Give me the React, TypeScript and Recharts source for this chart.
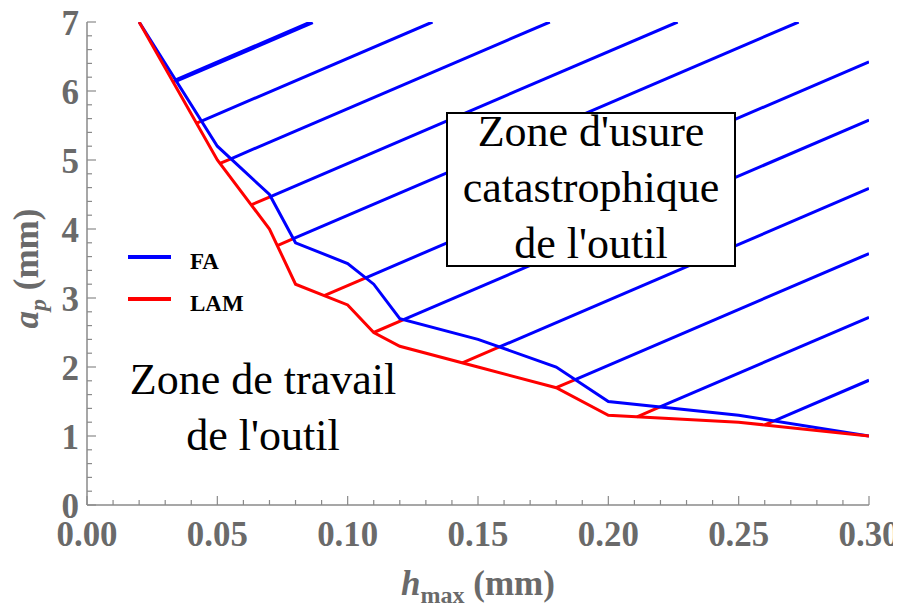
import React from "react";
import { LineChart, Line, XAxis, YAxis, Legend } from "recharts";

// values
const H_MAX = [0.02, 0.05, 0.07, 0.08, 0.1, 0.11, 0.12, 0.15, 0.18, 0.2, 0.25, 0.3];
const AP_FA = [7, 5.2, 4.5, 3.8, 3.5, 3.2, 2.7, 2.4, 2.0, 1.5, 1.3, 1.0];
const AP_LAM = [7, 5.0, 4.0, 3.2, 2.9, 2.5, 2.3, 2.0, 1.7, 1.3, 1.2, 1.0];

// hatching of the wear zone: start on the LAM curve, common slope (mm / mm)
const HATCH_START = [0.033, 0.042, 0.051, 0.063, 0.073, 0.091, 0.11, 0.144, 0.18, 0.211, 0.26];
const HATCH_SLOPE = 16.2;

const X_MAX = 0.3;
const Y_MAX = 7;
const X_TICKS = Array.from({ length: 31 }, (_, i) => +(i * 0.01).toFixed(2));
const Y_TICKS = Array.from({ length: 36 }, (_, i) => +(i * 0.2).toFixed(1));

const BLUE = "#0000ff";
const RED = "#ff0000";
const GRAY = "#6a6a6a";
const FRAME = "#8a8a8a";
const FONT = "'Liberation Serif', 'Times New Roman', serif";

const rows = H_MAX.map((x, i) => ({ x, fa: AP_FA[i], lam: AP_LAM[i] }));

const interp = (xs: number[], ys: number[], x: number) => {
  for (let i = 1; i < xs.length; i++) {
    if (x <= xs[i]) {
      const t = (x - xs[i - 1]) / (xs[i] - xs[i - 1]);
      return ys[i - 1] + t * (ys[i] - ys[i - 1]);
    }
  }
  return ys[ys.length - 1];
};

// where a hatch line (y = b + k x) leaves the FA curve
const crossFA = (xs0: number, b: number) => {
  const pts = [xs0, ...H_MAX.filter((x) => x > xs0)];
  for (let i = 1; i < pts.length; i++) {
    const f0 = interp(H_MAX, AP_FA, pts[i - 1]) - (b + HATCH_SLOPE * pts[i - 1]);
    const f1 = interp(H_MAX, AP_FA, pts[i]) - (b + HATCH_SLOPE * pts[i]);
    if (f0 >= 0 && f1 <= 0) {
      const x = pts[i - 1] + ((pts[i] - pts[i - 1]) * f0) / (f0 - f1 || 1);
      return { x, y: b + HATCH_SLOPE * x };
    }
  }
  return { x: xs0, y: b + HATCH_SLOPE * xs0 };
};

const hatches = HATCH_START.map((xs) => {
  const ys = interp(H_MAX, AP_LAM, xs);
  const b = ys - HATCH_SLOPE * xs;
  const mid = crossFA(xs, b);
  const xe = Math.min((Y_MAX - b) / HATCH_SLOPE, X_MAX);
  return {
    red: [{ x: xs, y: ys }, mid],
    blue: [mid, { x: xe, y: b + HATCH_SLOPE * xe }],
  };
});

const isMajorX = (v: number) => Math.round(v * 100) % 5 === 0;
const isMajorY = (v: number) => Math.round(v * 10) % 10 === 0;

const labelStyle = { fontFamily: FONT, fontWeight: "bold" as const, fill: GRAY };

const BottomTick = ({ x, y, payload }: any) => {
  const major = isMajorX(payload.value);
  return (
    <g>
      <line x1={x} x2={x} y1={y} y2={y - (major ? 9 : 5)} stroke={FRAME} strokeWidth={1.2} />
      {major && (
        <text
          x={x}
          y={y + 41}
          textAnchor="middle"
          fontSize={35}
          textLength={61}
          lengthAdjust="spacingAndGlyphs"
          {...labelStyle}
        >
          {payload.value.toFixed(2)}
        </text>
      )}
    </g>
  );
};

const TopTick = ({ x, y, payload }: any) => (
  <line x1={x} x2={x} y1={y} y2={y + (isMajorX(payload.value) ? 9 : 5)} stroke={FRAME} strokeWidth={1.2} />
);

const LeftTick = ({ x, y, payload }: any) => {
  const major = isMajorY(payload.value);
  return (
    <g>
      <line x1={x} x2={x + (major ? 9 : 5)} y1={y} y2={y} stroke={FRAME} strokeWidth={1.2} />
      {major && (
        <text x={x - 8} y={y + 12.5} textAnchor="end" fontSize={35} {...labelStyle}>
          {Math.round(payload.value)}
        </text>
      )}
    </g>
  );
};

const RightTick = ({ x, y, payload }: any) => (
  <line x1={x} x2={x - (isMajorY(payload.value) ? 9 : 5)} y1={y} y2={y} stroke={FRAME} strokeWidth={1.2} />
);

const XTitle = (props: any) => {
  const vb = props.viewBox ?? { x: 79, y: 497, width: 782 };
  return (
    <text x={vb.x + vb.width / 2} y={vb.y + 90} textAnchor="middle" fontSize={35} {...labelStyle}>
      <tspan fontStyle="italic">h</tspan>
      <tspan fontSize={24} dy={8}>max</tspan>
      <tspan dy={-8}> (mm)</tspan>
    </text>
  );
};

const YTitle = (props: any) => {
  const vb = props.viewBox ?? { x: 0, y: 14, height: 483 };
  const cx = vb.x + 30;
  const cy = vb.y + vb.height / 2 + 5;
  return (
    <text x={cx} y={cy} transform={`rotate(-90 ${cx} ${cy})`} textAnchor="middle" fontSize={35} {...labelStyle}>
      <tspan fontStyle="italic">a</tspan>
      <tspan fontStyle="italic" fontSize={24} dy={8}>p</tspan>
      <tspan dy={-8}> (mm)</tspan>
    </text>
  );
};

const renderLegend = (props: any) => {
  const items = (props.payload || []).filter((p: any) => p.value === "FA" || p.value === "LAM");
  return (
    <div style={{ position: "relative", width: 140, height: 84 }}>
      {items.map((p: any, i: number) => (
        <React.Fragment key={p.value}>
          <svg width={44} height={40} style={{ position: "absolute", left: 0, top: i * 42 }}>
            <line x1={0} x2={43} y1={19} y2={19} stroke={p.color} strokeWidth={4} />
          </svg>
          <span
            style={{
              position: "absolute",
              left: 62,
              top: i * 42 + 4,
              lineHeight: "40px",
              fontFamily: FONT,
              fontWeight: "bold",
              fontSize: 23,
              color: "#000",
            }}
          >
            {p.value}
          </span>
        </React.Fragment>
      ))}
    </div>
  );
};

const zoneText: React.CSSProperties = {
  position: "absolute",
  fontFamily: FONT,
  fontSize: 44,
  lineHeight: "56px",
  textAlign: "center",
  color: "#000",
  whiteSpace: "nowrap",
};

export default function App() {
  const axisLine = { stroke: FRAME, strokeWidth: 1.5 };
  return (
    <div style={{ position: "relative", width: 893, height: 602, fontFamily: FONT }}>
      <LineChart
        width={893}
        height={602}
        margin={{ top: 14, right: 32, bottom: 0, left: 0 }}
        style={{ overflow: "visible" }}
      >
        <XAxis
          xAxisId="b"
          dataKey="x"
          type="number"
          domain={[0, X_MAX]}
          ticks={X_TICKS}
          interval={0}
          allowDataOverflow
          tickSize={0}
          tickMargin={0}
          tickLine={false}
          tick={BottomTick}
          axisLine={axisLine}
          height={105}
          label={XTitle}
        />
        <XAxis
          xAxisId="t"
          orientation="top"
          dataKey="x"
          type="number"
          domain={[0, X_MAX]}
          ticks={X_TICKS}
          interval={0}
          allowDataOverflow
          tickSize={0}
          tickMargin={0}
          tickLine={false}
          tick={TopTick}
          axisLine={axisLine}
          height={0}
        />
        <YAxis
          yAxisId="l"
          type="number"
          domain={[0, Y_MAX]}
          ticks={Y_TICKS}
          interval={0}
          allowDataOverflow
          tickSize={0}
          tickMargin={0}
          tickLine={false}
          tick={LeftTick}
          axisLine={axisLine}
          width={79}
          label={YTitle}
        />
        <YAxis
          yAxisId="r"
          orientation="right"
          type="number"
          domain={[0, Y_MAX]}
          ticks={Y_TICKS}
          interval={0}
          allowDataOverflow
          tickSize={0}
          tickMargin={0}
          tickLine={false}
          tick={RightTick}
          axisLine={axisLine}
          width={0}
        />
        {hatches.flatMap((h, i) => [
          <Line
            key={`hr${i}`}
            xAxisId="b"
            yAxisId="l"
            data={h.red}
            dataKey="y"
            stroke={RED}
            strokeWidth={3}
            dot={false}
            activeDot={false}
            legendType="none"
            isAnimationActive={false}
          />,
          <Line
            key={`hb${i}`}
            xAxisId="b"
            yAxisId="l"
            data={h.blue}
            dataKey="y"
            stroke={BLUE}
            strokeWidth={i === 0 ? 4.5 : 3}
            dot={false}
            activeDot={false}
            legendType="none"
            isAnimationActive={false}
          />,
        ])}
        <Line
          xAxisId="b"
          yAxisId="l"
          data={rows}
          dataKey="fa"
          name="FA"
          stroke={BLUE}
          strokeWidth={3}
          dot={false}
          activeDot={false}
          isAnimationActive={false}
        />
        <Line
          xAxisId="b"
          yAxisId="l"
          data={rows}
          dataKey="lam"
          name="LAM"
          stroke={RED}
          strokeWidth={3}
          dot={false}
          activeDot={false}
          isAnimationActive={false}
        />
        <Legend
          layout="vertical"
          align="center"
          verticalAlign="middle"
          wrapperStyle={{ left: 120, top: 230, width: 140, height: 84 }}
          content={renderLegend}
        />
      </LineChart>
      <div
        style={{
          position: "absolute",
          left: 438,
          top: 104,
          width: 290,
          height: 155,
          boxSizing: "border-box",
          border: "2px solid #000",
          background: "#fff",
        }}
      />
      <div style={{ ...zoneText, left: 438, top: 96, width: 290 }}>
        Zone d'usure
        <br />
        catastrophique
        <br />
        de l'outil
      </div>
      <div style={{ ...zoneText, left: 105, top: 344, width: 300 }}>
        Zone de travail
        <br />
        de l'outil
      </div>
    </div>
  );
}
